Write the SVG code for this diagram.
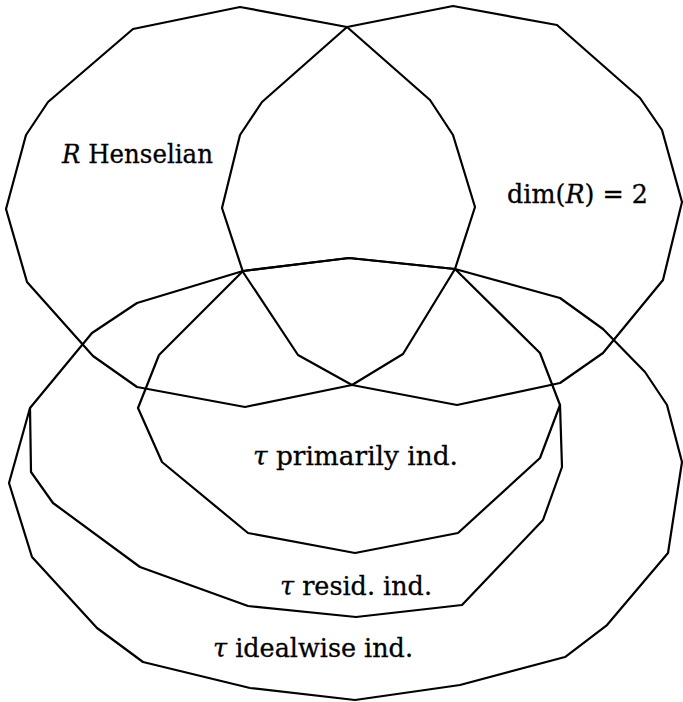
<svg xmlns="http://www.w3.org/2000/svg" width="683" height="702" viewBox="0 0 683 702">
<style>
.b{fill:none;stroke:#000;stroke-width:2.2;stroke-linejoin:round}
.t{font-family:"DejaVu Serif","Liberation Serif",serif;font-size:26px;fill:#000;stroke:#000;stroke-width:0.3}
.i{font-style:italic}
</style>
<rect width="683" height="702" fill="#fff"/>
<g id="henselian">
<polygon class="b" points="240,7 347,27 430,100 453,135 475,207 455,269 403,354 352,385 245,407 137,387 93,356 27,282 6,209 26,135 48,102 133,29"/>
<text class="t" x="62" y="163" textLength="151" lengthAdjust="spacingAndGlyphs"><tspan class="i">R</tspan> Henselian</text>
</g>
<g id="dim2">
<polygon class="b" points="453,6 557,25 640,98 662,130 682,202 663,280 603,353 560,383 457,405 352,385 298,355 243,272 222,208 240,135 262,102 347,27"/>
<text class="t" x="507" y="203" textLength="141" lengthAdjust="spacingAndGlyphs">dim(<tspan class="i">R</tspan>) = 2</text>
</g>
<g id="idealwise">
<polygon class="b" points="349,258 455,269 560,298 603,329 645,372 667,405 682,462 668,553 607,625 565,657 460,685 355,700 250,688 143,662 97,628 32,557 9,483 30,408 92,333 137,303 243,271"/>
<text class="t" x="213" y="657" textLength="200" lengthAdjust="spacingAndGlyphs"><tspan class="i">τ</tspan> idealwise ind.</text>
</g>
<g id="resid">
<polyline class="b" points="30,408 31,472 53,503 140,567 248,606 356,617 462,605 543,520 562,467 560,405"/>
<text class="t" x="280" y="595" textLength="152" lengthAdjust="spacingAndGlyphs"><tspan class="i">τ</tspan> resid. ind.</text>
</g>
<g id="primarily">
<polygon class="b" points="243,271 349,258 455,269 540,353 560,405 540,458 458,533 355,553 248,533 162,462 138,408 159,355"/>
<text class="t" x="253" y="465" textLength="205" lengthAdjust="spacingAndGlyphs"><tspan class="i">τ</tspan> primarily ind.</text>
</g>
<g id="connectors"/>
</svg>
